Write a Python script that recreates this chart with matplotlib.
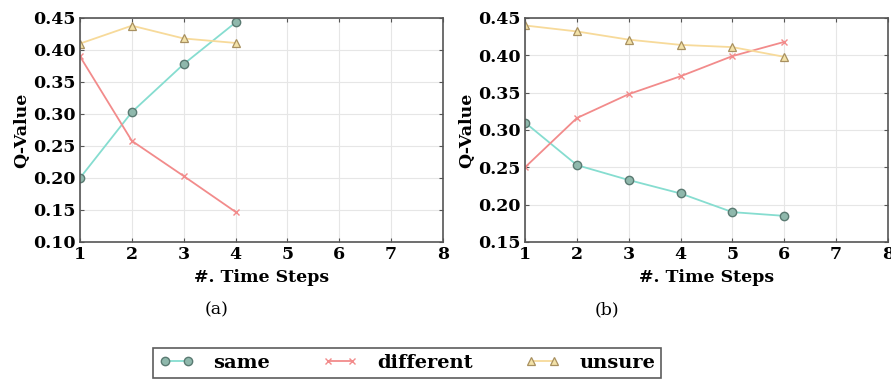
import matplotlib.pyplot as plt

# data
steps_a = [1, 2, 3, 4]
same_a = [0.200, 0.303, 0.378, 0.443]
different_a = [0.390, 0.258, 0.203, 0.147]
unsure_a = [0.410, 0.438, 0.418, 0.411]

steps_b = [1, 2, 3, 4, 5, 6]
same_b = [0.310, 0.253, 0.233, 0.215, 0.190, 0.185]
different_b = [0.250, 0.316, 0.348, 0.372, 0.399, 0.418]
unsure_b = [0.440, 0.432, 0.421, 0.414, 0.411, 0.398]

x_ticks = [1, 2, 3, 4, 5, 6, 7, 8]
y_ticks_a = [0.10, 0.15, 0.20, 0.25, 0.30, 0.35, 0.40, 0.45]
y_ticks_b = [0.15, 0.20, 0.25, 0.30, 0.35, 0.40, 0.45]

plt.rcParams['font.family'] = ['DejaVu Serif']
plt.rcParams['font.weight'] = 'bold'

fig = plt.figure(figsize=(8.91, 3.8), dpi=100)
ax_a = fig.add_axes([80 / 891, 1 - 242 / 380, 363 / 891, 224 / 380])
ax_b = fig.add_axes([525 / 891, 1 - 242 / 380, 363 / 891, 224 / 380])

same_style = dict(color='#86ddd0', marker='o', markersize=6, markerfacecolor='#8fb8ac',
                  markeredgecolor='#5a7a72', markeredgewidth=1.0, linewidth=1.3)
diff_style = dict(color='#f28b8b', marker='x', markersize=4, markeredgewidth=1.0, linewidth=1.3)
unsure_style = dict(color='#f7da9a', marker='^', markersize=6, markerfacecolor='#f3e2a8',
                    markeredgecolor='#a89060', markeredgewidth=0.9, linewidth=1.3)

for ax, steps, s, d, u, yt in [(ax_a, steps_a, same_a, different_a, unsure_a, y_ticks_a),
                                (ax_b, steps_b, same_b, different_b, unsure_b, y_ticks_b)]:
    ax.plot(steps, s, label='same', **same_style)
    ax.plot(steps, d, label='different', **diff_style)
    ax.plot(steps, u, label='unsure', **unsure_style)
    ax.set_xlim(1, 8)
    ax.set_ylim(yt[0], yt[-1])
    ax.set_xticks(x_ticks)
    ax.set_yticks(yt)
    ax.set_yticklabels([f'{v:.2f}' for v in yt])
    ax.grid(True, color='#e6e6e6', linewidth=0.8)
    ax.set_axisbelow(True)
    ax.tick_params(direction='in', top=True, right=True, length=3, labelsize=12.5,
                   color='#555555', pad=3)
    for sp in ax.spines.values():
        sp.set_color('#555555')
        sp.set_linewidth(1.2)
    ax.set_xlabel('#. Time Steps', fontsize=12.5, fontweight='bold', labelpad=4)
    ax.set_ylabel('Q-Value', fontsize=12.5, fontweight='bold', labelpad=2)

fig.text(217 / 891, 1 - 310 / 380, '(a)', ha='center', va='center', fontsize=12.5, fontweight='normal')
fig.text(607 / 891, 1 - 310 / 380, '(b)', ha='center', va='center', fontsize=12.5, fontweight='normal')

handles, labels = ax_a.get_legend_handles_labels()
leg = fig.legend(handles, labels, loc='upper left', bbox_to_anchor=(153 / 891, 1 - 348 / 380),
                 ncol=3, frameon=True, fancybox=False, edgecolor='#333333', numpoints=2,
                 handlelength=1.8, columnspacing=2.7, borderpad=0.3, handletextpad=1.0,
                 borderaxespad=0, prop={'weight': 'bold', 'size': 14})
leg.get_frame().set_linewidth(1.2)

fig.savefig('out.png', dpi=100)
